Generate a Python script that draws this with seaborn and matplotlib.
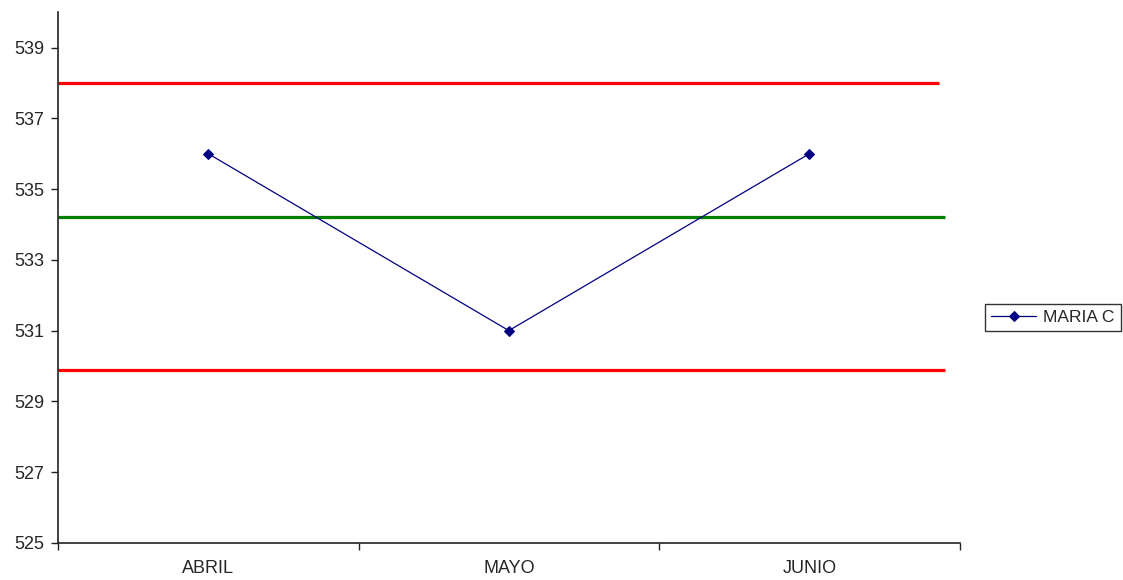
import pandas as pd
import matplotlib
matplotlib.use("Agg")
import matplotlib.pyplot as plt
import seaborn as sns

# Chart data
months = ["ABRIL", "MAYO", "JUNIO"]
maria_c = [536, 531, 536]
series_name = "MARIA C"

# Control limits (upper, center, lower)
upper_limit = 538.0
center_line = 534.2
lower_limit = 529.9

y_ticks = [525, 527, 529, 531, 533, 535, 537, 539]

df = pd.DataFrame({"Mes": months, "Valor": maria_c, "Serie": series_name})

sns.set_style("ticks")
plt.rcParams['font.family'] = ['Liberation Sans', 'DejaVu Sans']

fig = plt.figure(figsize=(11.23, 5.8), dpi=100)
ax = fig.add_axes([0.0516, 0.064, 0.803, 0.915])

# Limit lines
ax.plot([-0.5, 2.43], [upper_limit, upper_limit], color="#ff0000", lw=2.3, solid_capstyle="butt")
ax.plot([-0.5, 2.45], [center_line, center_line], color="#008000", lw=2.3, solid_capstyle="butt")
ax.plot([-0.5, 2.45], [lower_limit, lower_limit], color="#ff0000", lw=2.3, solid_capstyle="butt")

sns.lineplot(data=df, x="Mes", y="Valor", hue="Serie", palette=["#000080"],
             marker="D", markersize=5.5, linewidth=0.9, markeredgecolor="#000080",
             sort=False, ax=ax)

ax.set_xlim(-0.5, 2.5)
ax.set_ylim(525, 540)
ax.set_yticks(y_ticks)
ax.set_xticks(range(len(months)))
ax.set_xticklabels(months)
ax.set_xticks([-0.5, 0.5, 1.5, 2.5], minor=True)
ax.tick_params(axis="x", which="major", length=0, pad=12, labelsize=13)
ax.tick_params(axis="x", which="minor", length=5, width=1, color="#222222")
ax.tick_params(axis="y", length=5, width=1, color="#222222", labelsize=13, pad=5)
ax.set_xlabel("")
ax.set_ylabel("")
ax.grid(False)
for side in ["top", "right"]:
    ax.spines[side].set_visible(False)
for side in ["left", "bottom"]:
    ax.spines[side].set_color("#222222")
    ax.spines[side].set_linewidth(1.2)

handles, labels = ax.get_legend_handles_labels()
leg = ax.legend(handles, labels, loc="center right", bbox_to_anchor=(0.998, 0.453),
                bbox_transform=fig.transFigure, frameon=True, fancybox=False,
                edgecolor="black", fontsize=12.5, handlelength=2.6,
                borderpad=0.35, handletextpad=0.4, borderaxespad=0)
leg.get_frame().set_linewidth(1.0)

fig.savefig("out.png", dpi=100)
